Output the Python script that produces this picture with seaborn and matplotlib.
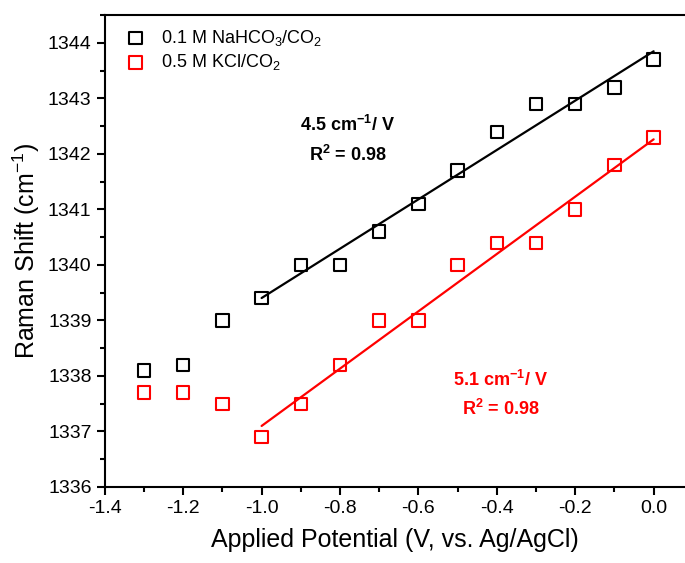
import numpy as np
import pandas as pd
import matplotlib
matplotlib.use("Agg")
import matplotlib.pyplot as plt
import seaborn as sns
from matplotlib.ticker import MultipleLocator

# data
potential = [-1.3, -1.2, -1.1, -1.0, -0.9, -0.8, -0.7, -0.6, -0.5, -0.4, -0.3, -0.2, -0.1, 0.0]
shift_nahco3 = [1338.1, 1338.2, 1339.0, 1339.4, 1340.0, 1340.0, 1340.6, 1341.1,
                1341.7, 1342.4, 1342.9, 1342.9, 1343.2, 1343.7]
shift_kcl = [1337.7, 1337.7, 1337.5, 1336.9, 1337.5, 1338.2, 1339.0, 1339.0,
             1340.0, 1340.4, 1340.4, 1341.0, 1341.8, 1342.3]
fit_start = -1.0
xticks = [-1.4, -1.2, -1.0, -0.8, -0.6, -0.4, -0.2, 0.0]
xtick_labels = ["-1.4", "-1.2", "-1.0", "-0.8", "-0.6", "-0.4", "-0.2", "0.0"]

sns.set_style("ticks", {"axes.edgecolor": "black", "text.color": "black",
                        "axes.labelcolor": "black", "xtick.color": "black",
                        "ytick.color": "black"})
plt.rcParams["font.family"] = ["Liberation Sans", "DejaVu Sans"]
plt.rcParams["mathtext.fontset"] = "custom"
plt.rcParams["mathtext.rm"] = "Liberation Sans"
plt.rcParams["mathtext.bf"] = "Liberation Sans:bold"
plt.rcParams["mathtext.default"] = "regular"

df = pd.DataFrame({"V": potential, "nahco3": shift_nahco3, "kcl": shift_kcl})
fit = df[df["V"] >= fit_start]

fig = plt.figure(figsize=(6.85, 5.63), dpi=100)
ax = fig.add_axes([0.153, 0.135, 0.847, 0.838])

sns.scatterplot(data=df, x="V", y="nahco3", marker="s", s=80, fc="none", ec="black",
                linewidth=1.5, ax=ax, label="0.1 M NaHCO$_3$/CO$_2$", zorder=3)
sns.scatterplot(data=df, x="V", y="kcl", marker="s", s=80, fc="none", ec="red",
                linewidth=1.5, ax=ax, label="0.5 M KCl/CO$_2$", zorder=3)
sns.regplot(data=fit, x="V", y="nahco3", scatter=False, ci=None, color="black",
            line_kws={"lw": 1.6}, ax=ax, truncate=True)
sns.regplot(data=fit, x="V", y="kcl", scatter=False, ci=None, color="red",
            line_kws={"lw": 1.6}, ax=ax, truncate=True)

txt = dict(fontsize=13, fontweight="bold", ha="center", va="center")
ax.text(-0.78, 1342.52, r"4.5 cm$^{\mathbf{-1}}$/ V", color="black", **txt)
ax.text(-0.78, 1341.98, r"R$^{\mathbf{2}}$ = 0.98", color="black", **txt)
ax.text(-0.39, 1337.93, r"5.1 cm$^{\mathbf{-1}}$/ V", color="red", **txt)
ax.text(-0.39, 1337.41, r"R$^{\mathbf{2}}$ = 0.98", color="red", **txt)

ax.set_xlim(-1.4, 0.08)
ax.set_ylim(1336, 1344.5)
ax.set_xticks(xticks)
ax.set_xticklabels(xtick_labels)
ax.xaxis.set_minor_locator(MultipleLocator(0.1))
ax.yaxis.set_major_locator(MultipleLocator(1))
ax.yaxis.set_minor_locator(MultipleLocator(0.5))
ax.tick_params(which="major", direction="out", length=6, width=1.5, labelsize=14)
ax.tick_params(which="minor", direction="out", length=3.5, width=1.5)
for side in ["left", "bottom", "top"]:
    ax.spines[side].set_linewidth(1.5)
ax.spines["right"].set_visible(False)
ax.set_xlabel("Applied Potential (V, vs. Ag/AgCl)", fontsize=18, labelpad=8)
ax.set_ylabel("Raman Shift (cm$^{-1}$)", fontsize=18, labelpad=4)

ax.legend(loc="upper left", frameon=False, fontsize=13, handletextpad=0.4,
          borderaxespad=0.4, labelspacing=0.25, borderpad=0.3)

fig.savefig("out.png", dpi=100)
